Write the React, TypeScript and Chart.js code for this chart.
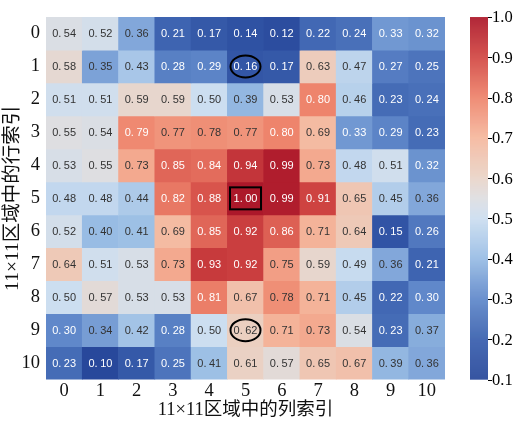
import React, { useEffect, useRef } from "react";
import { Chart, registerables } from "chart.js";

Chart.register(...registerables);

const colLabels = ["0", "1", "2", "3", "4", "5", "6", "7", "8", "9", "10"];
const rowLabels = ["0", "1", "2", "3", "4", "5", "6", "7", "8", "9", "10"];

const row0 = [0.54, 0.52, 0.36, 0.21, 0.17, 0.14, 0.12, 0.22, 0.24, 0.33, 0.32];
const row1 = [0.58, 0.35, 0.43, 0.28, 0.29, 0.16, 0.17, 0.63, 0.47, 0.27, 0.25];
const row2 = [0.51, 0.51, 0.59, 0.59, 0.5, 0.39, 0.53, 0.8, 0.46, 0.23, 0.24];
const row3 = [0.55, 0.54, 0.79, 0.77, 0.78, 0.77, 0.8, 0.69, 0.33, 0.29, 0.23];
const row4 = [0.53, 0.55, 0.73, 0.85, 0.84, 0.94, 0.99, 0.73, 0.48, 0.51, 0.32];
const row5 = [0.48, 0.48, 0.44, 0.82, 0.88, 1.0, 0.99, 0.91, 0.65, 0.45, 0.36];
const row6 = [0.52, 0.4, 0.41, 0.69, 0.85, 0.92, 0.86, 0.71, 0.64, 0.15, 0.26];
const row7 = [0.64, 0.51, 0.53, 0.73, 0.93, 0.92, 0.75, 0.59, 0.49, 0.36, 0.21];
const row8 = [0.5, 0.57, 0.53, 0.53, 0.81, 0.67, 0.78, 0.71, 0.45, 0.22, 0.3];
const row9 = [0.3, 0.34, 0.42, 0.28, 0.5, 0.62, 0.71, 0.73, 0.54, 0.23, 0.37];
const row10 = [0.23, 0.1, 0.17, 0.25, 0.41, 0.61, 0.57, 0.65, 0.67, 0.39, 0.36];
const rows = [row0, row1, row2, row3, row4, row5, row6, row7, row8, row9, row10];

const colorbarTicks = [0.1, 0.2, 0.3, 0.4, 0.5, 0.6, 0.7, 0.8, 0.9, 1.0];
const vmin = 0.1;
const vmax = 1.0;

// circled / boxed cells: [row, col]
const ellipseCells = [[1, 5], [9, 5]];
const boxCells = [[5, 5]];

const xTitle = "11×11区域中的列索引";
const yTitle = "11×11区域中的行索引";

const cmapStops: [number, number[]][] = [
  [0.0, [40, 72, 155]],
  [0.111, [58, 96, 174]],
  [0.222, [96, 136, 202]],
  [0.333, [152, 188, 228]],
  [0.444, [204, 222, 240]],
  [0.5, [222, 222, 225]],
  [0.556, [233, 212, 200]],
  [0.667, [245, 184, 158]],
  [0.778, [238, 132, 108]],
  [0.889, [210, 72, 68]],
  [1.0, [172, 24, 42]],
];

function cmapRGB(v: number): number[] {
  let t = (v - vmin) / (vmax - vmin);
  t = Math.max(0, Math.min(1, t));
  for (let i = 0; i < cmapStops.length - 1; i++) {
    const [t0, c0] = cmapStops[i];
    const [t1, c1] = cmapStops[i + 1];
    if (t <= t1) {
      const f = (t - t0) / (t1 - t0);
      return c0.map((c, k) => Math.round(c + (c1[k] - c) * f));
    }
  }
  return cmapStops[cmapStops.length - 1][1];
}
function cmap(v: number): string {
  const c = cmapRGB(v);
  return `rgb(${c[0]},${c[1]},${c[2]})`;
}
function isDarkCell(v: number): boolean {
  return v < 0.335 || v > 0.785;
}

const serif = "'Liberation Serif', 'Times New Roman', 'Noto Sans CJK SC', serif";
const cellFont = "11px 'Liberation Sans', Arial, sans-serif";

const overlayPlugin = {
  id: "overlay",
  afterDatasetsDraw(chart: any) {
    const ctx = chart.ctx;
    const xs = chart.scales.x;
    const ys = chart.scales.y;
    ctx.save();
    ctx.font = cellFont;
    ctx.textBaseline = "middle";
    ctx.textAlign = "left";
    const gap = 2.5;
    rows.forEach((row, r) => {
      row.forEach((v, c) => {
        const x = xs.getPixelForValue(c);
        const y = ys.getPixelForValue(r);
        const s = v.toFixed(2);
        const head = s.slice(0, 2);
        const tail = s.slice(2);
        const w1 = ctx.measureText(head).width;
        const w2 = ctx.measureText(tail).width;
        const total = w1 + gap + w2;
        const x0 = x - total / 2;
        ctx.fillStyle = isDarkCell(v) ? "#ffffff" : "#333333";
        ctx.fillText(head, x0, y + 0.5);
        ctx.fillText(tail, x0 + w1 + gap, y + 0.5);
      });
    });
    ctx.strokeStyle = "#000000";
    ctx.lineWidth = 2;
    ellipseCells.forEach(([r, c]) => {
      const x = xs.getPixelForValue(c);
      const y = ys.getPixelForValue(r);
      ctx.beginPath();
      ctx.ellipse(x, y, 15, 11, 0, 0, Math.PI * 2);
      ctx.stroke();
    });
    boxCells.forEach(([r, c]) => {
      const x = xs.getPixelForValue(c);
      const y = ys.getPixelForValue(r);
      ctx.strokeRect(x - 15.5, y - 11, 31, 22);
    });

    // colorbar
    const top = chart.chartArea.top;
    const bottom = chart.chartArea.bottom;
    const cbLeft = 470;
    const cbW = 18;
    const h = bottom - top;
    for (let i = 0; i < Math.ceil(h); i++) {
      const v = vmax - ((i + 0.5) / h) * (vmax - vmin);
      ctx.fillStyle = cmap(v);
      ctx.fillRect(cbLeft, top + i, cbW, Math.min(1.2, h - i));
    }
    ctx.fillStyle = "#000";
    ctx.strokeStyle = "#000";
    ctx.lineWidth = 1;
    ctx.font = `16.5px ${serif}`;
    ctx.textAlign = "left";
    ctx.textBaseline = "middle";
    colorbarTicks.forEach((t) => {
      const y = bottom - ((t - vmin) / (vmax - vmin)) * h;
      ctx.beginPath();
      ctx.moveTo(cbLeft + cbW, Math.round(y) + 0.5);
      ctx.lineTo(cbLeft + cbW + 4, Math.round(y) + 0.5);
      ctx.stroke();
      ctx.fillText(t.toFixed(1), cbLeft + cbW + 4, y + 1);
    });
    ctx.restore();
  },
};

export default function App() {
  const ref = useRef<HTMLCanvasElement>(null);
  useEffect(() => {
    if (!ref.current) return;
    const datasets = rows.map((row, r) => ({
      label: rowLabels[r],
      data: row.map(() => [r - 0.5, r + 0.5]),
      backgroundColor: row.map((v) => cmap(v)),
      borderWidth: 0,
      barPercentage: 1,
      categoryPercentage: 1,
      grouped: false,
    }));
    const chart = new Chart(ref.current, {
      type: "bar",
      data: { labels: colLabels, datasets: datasets as any },
      options: {
        animation: false,
        responsive: false,
        maintainAspectRatio: false,
        layout: { padding: { top: 15.5, right: 70, left: 0, bottom: 0 } },
        plugins: { legend: { display: false }, tooltip: { enabled: false } },
        scales: {
          x: {
            type: "category",
            offset: true,
            grid: { display: false, drawTicks: false },
            border: { display: false },
            ticks: { color: "#111", font: { family: serif, size: 18.5 }, padding: 0, maxRotation: 0 },
            title: { display: true, text: xTitle, color: "#111", font: { family: serif, size: 18.5 }, padding: { top: 0, bottom: 1 } },
            afterFit: (s: any) => { s.height = 42.4; },
          },
          y: {
            type: "linear",
            reverse: true,
            min: -0.5,
            max: 10.5,
            grid: { display: false, drawTicks: false },
            border: { display: false },
            afterBuildTicks: (s: any) => { s.ticks = rowLabels.map((_, i) => ({ value: i })); },
            ticks: { color: "#111", font: { family: serif, size: 18.5 }, padding: 6, callback: (v: any) => String(v) },
            title: { display: true, text: yTitle, color: "#111", font: { family: serif, size: 19.5 }, padding: { top: 1, bottom: 0 } },
            afterFit: (s: any) => { s.width = 46; },
          },
        },
      },
      plugins: [overlayPlugin],
    });
    return () => chart.destroy();
  }, []);
  return (
    <div style={{ position: "fixed", left: 0, top: 0, width: 515, height: 422, background: "#fff" }}>
      <canvas ref={ref} width={515} height={422} style={{ width: 515, height: 422 }} />
    </div>
  );
}
